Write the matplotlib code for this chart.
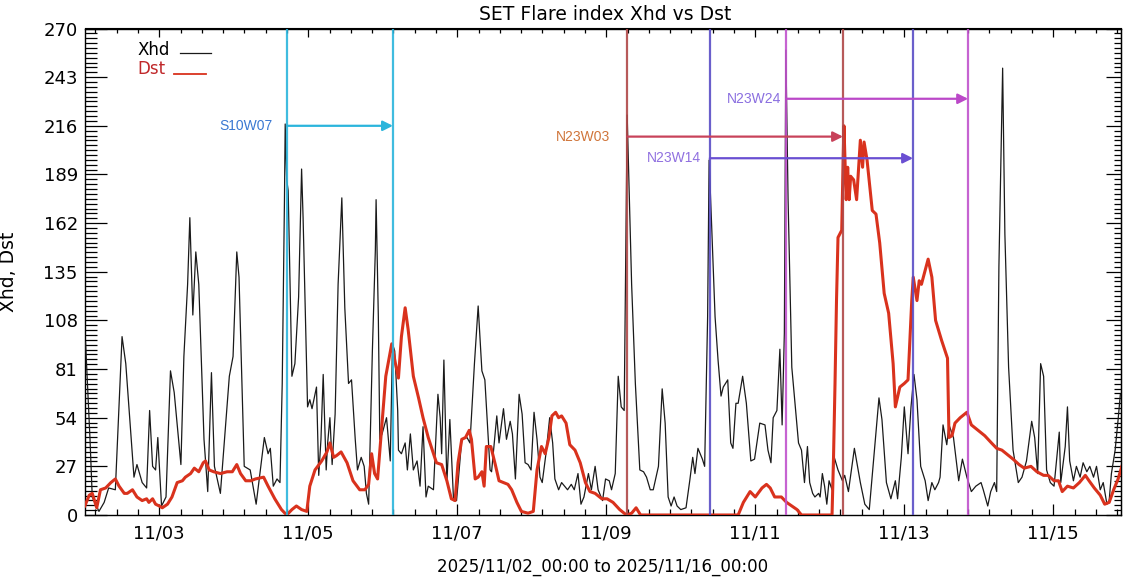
import numpy as np
import matplotlib
matplotlib.use('Agg')
import matplotlib.pyplot as plt
from matplotlib.ticker import FixedLocator, MultipleLocator, NullFormatter
from matplotlib.lines import Line2D

# время в сутках от 2025/11/02 00:00
xhd_day = [0.01, 0.07, 0.10, 0.19, 0.26, 0.32, 0.41, 0.50, 0.55, 0.66, 0.70, 0.77, 0.83, 0.87, 0.91,
           0.95, 0.98, 1.03, 1.09, 1.15, 1.20, 1.29, 1.33, 1.38, 1.41, 1.45, 1.49, 1.53, 1.60, 1.65,
           1.70, 1.74, 1.82, 1.94, 1.99, 2.04, 2.07, 2.14, 2.22, 2.30, 2.41, 2.46, 2.49, 2.53, 2.58,
           2.62, 2.65, 2.68, 2.69, 2.71, 2.73, 2.78, 2.82, 2.87, 2.91, 2.93, 2.99, 3.02, 3.05, 3.11,
           3.14, 3.17, 3.20, 3.24, 3.26, 3.29, 3.32, 3.36, 3.40, 3.45, 3.49, 3.54, 3.58, 3.63, 3.66,
           3.71, 3.75, 3.78, 3.81, 3.86, 3.90, 3.91, 3.94, 3.96, 3.99, 4.05, 4.10, 4.13, 4.16, 4.20,
           4.21, 4.25, 4.30, 4.33, 4.37, 4.41, 4.46, 4.50, 4.54, 4.58, 4.61, 4.68, 4.74, 4.77, 4.79,
           4.82, 4.86, 4.90, 4.95, 4.99, 5.06, 5.13, 5.17, 5.23, 5.28, 5.33, 5.37, 5.41, 5.44, 5.46,
           5.53, 5.56, 5.62, 5.66, 5.71, 5.74, 5.78, 5.83, 5.87, 5.91, 5.95, 5.99, 6.03, 6.07, 6.11,
           6.14, 6.19, 6.24, 6.28, 6.31, 6.36, 6.40, 6.44, 6.48, 6.53, 6.57, 6.62, 6.66, 6.70, 6.76,
           6.80, 6.85, 6.89, 6.95, 6.99, 7.04, 7.07, 7.12, 7.16, 7.20, 7.24, 7.28, 7.34, 7.39, 7.45,
           7.50, 7.54, 7.59, 7.63, 7.70, 7.75, 7.79, 7.83, 7.87, 7.91, 7.95, 8.00, 8.07, 8.12, 8.16,
           8.19, 8.23, 8.29, 8.32, 8.36, 8.38, 8.41, 8.46, 8.50, 8.54, 8.57, 8.63, 8.67, 8.70, 8.74,
           8.77, 8.83, 8.88, 8.94, 8.99, 9.06, 9.13, 9.17, 9.21, 9.24, 9.29, 9.33, 9.36, 9.39, 9.41,
           9.44, 9.49, 9.58, 9.62, 9.66, 9.70, 9.73, 9.77, 9.80, 9.85, 9.87, 9.90, 9.93, 9.96, 9.99,
           10.03, 10.06, 10.11, 10.17, 10.20, 10.25, 10.33, 10.41, 10.47, 10.53, 10.58, 10.66, 10.70,
           10.76, 10.82, 10.88, 10.91, 10.96, 11.00, 11.05, 11.09, 11.13, 11.17, 11.22, 11.28, 11.32,
           11.37, 11.41, 11.46, 11.48, 11.52, 11.57, 11.60, 11.66, 11.73, 11.78, 11.84, 11.90, 11.96,
           12.03, 12.06, 12.12, 12.16, 12.21, 12.24, 12.27, 12.32, 12.35, 12.40, 12.46, 12.53, 12.58,
           12.64, 12.71, 12.75, 12.79, 12.83, 12.87, 12.91, 12.96, 13.01, 13.08, 13.10, 13.16, 13.19,
           13.22, 13.27, 13.31, 13.36, 13.40, 13.45, 13.49, 13.54, 13.58, 13.63, 13.67, 13.72, 13.75,
           13.78, 13.83, 13.87, 13.90]
xhd_val = [96, 42, 10, 2, 7, 15, 14, 99, 84, 21, 28, 18, 15, 58, 27,
           25, 43, 5, 10, 80, 68, 28, 88, 128, 165, 111, 146, 128, 42, 13,
           79, 27, 12, 77, 88, 146, 132, 27, 25, 6, 43, 34, 37, 16, 20,
           18, 73, 175, 217, 186, 180, 77, 84, 121, 192, 165, 60, 64, 59, 71,
           22, 42, 78, 25, 40, 54, 28, 56, 128, 176, 115, 73, 75, 42, 25,
           32, 27, 12, 6, 91, 147, 175, 110, 42, 45, 54, 30, 95, 91, 58,
           36, 34, 40, 25, 45, 25, 30, 16, 49, 10, 16, 14, 67, 54, 34,
           86, 18, 53, 8, 8, 42, 43, 40, 84, 116, 80, 75, 47, 25, 24,
           55, 40, 59, 42, 52, 45, 20, 67, 56, 29, 28, 25, 57, 42, 21,
           18, 34, 54, 40, 20, 14, 18, 16, 14, 17, 14, 23, 6, 10, 23,
           14, 27, 14, 8, 20, 19, 14, 23, 77, 60, 58, 222, 128, 73, 25,
           24, 21, 14, 14, 27, 70, 51, 10, 5, 10, 5, 3, 4, 19, 32,
           23, 37, 31, 27, 110, 197, 165, 110, 86, 66, 71, 75, 40, 37, 62,
           62, 77, 62, 30, 31, 51, 50, 36, 29, 54, 58, 92, 50, 101, 258,
           175, 82, 40, 36, 18, 38, 18, 12, 10, 12, 10, 23, 16, 6, 19,
           14, 32, 25, 19, 22, 13, 37, 18, 6, 3, 27, 65, 53,
           18, 9, 19, 9, 32, 60, 34, 60, 78, 64, 27, 19, 8,
           18, 14, 18, 21, 50, 39, 50, 43, 19, 31, 21, 13, 16,
           18, 14, 5, 13, 18, 13, 138, 248, 156, 82, 36, 18, 21,
           30, 52, 43, 23, 84, 77, 25, 18, 16, 46, 18, 38, 60,
           30, 19, 27, 21, 29, 24, 27, 21, 27, 14, 18, 6, 8,
           23, 36, 53, 67]

dst_day = [0.00, 0.06, 0.10, 0.16, 0.21, 0.28, 0.35, 0.41, 0.46, 0.53, 0.57, 0.64, 0.70, 0.77, 0.83,
           0.86, 0.91, 0.95, 1.00, 1.04, 1.11, 1.17, 1.24, 1.31, 1.35, 1.42, 1.47, 1.53, 1.59, 1.62,
           1.67, 1.73, 1.82, 1.91, 1.98, 2.04, 2.09, 2.16, 2.23, 2.29, 2.40, 2.46, 2.55, 2.64, 2.71,
           2.78, 2.84, 2.91, 2.98, 3.02, 3.09, 3.18, 3.25, 3.29, 3.34, 3.38, 3.44, 3.52, 3.60, 3.69,
           3.76, 3.81, 3.85, 3.89, 3.93, 3.99, 4.04, 4.12, 4.17, 4.21, 4.25, 4.30, 4.34, 4.41, 4.48,
           4.54, 4.61, 4.72, 4.79, 4.86, 4.92, 4.97, 5.01, 5.06, 5.11, 5.16, 5.19, 5.24, 5.28, 5.33,
           5.36, 5.39, 5.45, 5.51, 5.56, 5.62, 5.68, 5.73, 5.80, 5.86, 5.95, 6.02, 6.07, 6.13, 6.18,
           6.23, 6.27, 6.32, 6.36, 6.40, 6.46, 6.51, 6.58, 6.65, 6.72, 6.78, 6.85, 6.94, 7.01, 7.09,
           7.18, 7.27, 7.34, 7.40, 7.46, 8.77, 8.84, 8.93, 9.00, 9.09, 9.15, 9.20, 9.26, 9.35, 9.42,
           9.49, 9.56, 9.62, 10.03, 10.05, 10.07, 10.09, 10.11, 10.16, 10.18, 10.19, 10.22, 10.24,
           10.26, 10.28, 10.32, 10.36, 10.41, 10.44, 10.46, 10.50, 10.57, 10.62, 10.67, 10.73, 10.79,
           10.85, 10.88, 10.94, 11.00, 11.05, 11.10, 11.12, 11.17, 11.20, 11.23, 11.32, 11.37, 11.42,
           11.50, 11.58, 11.60, 11.64, 11.68, 11.75, 11.84, 11.90, 11.99, 12.08, 12.17, 12.24, 12.31,
           12.37, 12.46, 12.54, 12.61, 12.70, 12.78, 12.87, 12.93, 13.01, 13.07, 13.12, 13.19, 13.27,
           13.35, 13.43, 13.48, 13.55, 13.63, 13.69, 13.75, 13.81, 13.87, 13.92]
dst_val = [5, 11, 12, 4, 14, 15, 18, 20, 16, 12, 12, 14, 10, 8, 9,
           7, 9, 6, 5, 4, 6, 10, 18, 19, 21, 23, 26, 24, 29, 30,
           25, 24, 23, 24, 24, 28, 23, 19, 19, 20, 21, 16, 9, 3, 0,
           3, 5, 3, 2, 16, 25, 30, 35, 40, 32, 33, 35, 29, 19, 14,
           14, 17, 34, 23, 20, 51, 77, 95, 84, 76, 99, 115, 103, 77, 65,
           54, 43, 29, 28, 19, 9, 8, 29, 42, 43, 47, 42, 20, 21, 24,
           16, 38, 38, 28, 19, 18, 17, 14, 7, 2, 1, 2, 25, 38, 34,
           43, 55, 57, 54, 55, 51, 39, 36, 29, 18, 13, 12, 9, 9, 7,
           3, 0, 1, 4, 0, 0, 7, 13, 10, 15, 17, 15, 10, 10, 7,
           5, 3, 0, 0, 32, 73, 119, 154, 158, 199, 216, 175, 193,
           175, 188, 186, 175, 208, 193, 207, 197, 169, 167, 151, 123, 112,
           84, 60, 71, 73, 75, 119, 132, 119, 130, 128, 142, 132, 108,
           97, 87, 43, 44, 51, 54, 57, 50, 47, 44, 40, 37, 36,
           34, 31, 28, 26, 27, 24, 22, 22, 19, 19, 13, 16, 15,
           18, 22, 19, 15, 11, 6, 7, 14, 20, 27]

# области и время прихода
ev_names = ['S10W07', 'N23W03', 'N23W14', 'N23W24']
ev_start = [2.714, 7.282, 8.389, 9.413]
ev_end = [4.136, 10.177, 11.117, 11.856]
ev_level = [216, 210, 198, 231]
ev_line_col = ['#2bb5dc', '#b04848', '#5a4ec6', '#c052cc']
ev_arrow_col = ['#2bb5dc', '#c8425a', '#6a4fd2', '#bb48c8']
ev_text_col = ['#3a78d2', '#d0753a', '#9070e0', '#8a6ee0']
ev_text_dx = [-14, -17, -9, -5]

tick_days = [1, 3, 5, 7, 9, 11, 13]
tick_names = ['11/03', '11/05', '11/07', '11/09', '11/11', '11/13', '11/15']

W, H = 1123, 579
fig = plt.figure(figsize=(W / 100, H / 100), dpi=100)
x0, x1, y0, y1 = 84.8, 1121.0, 28.5, 515.0
ax = fig.add_axes([x0 / W, 1 - y1 / H, (x1 - x0) / W, (y1 - y0) / H])

ax.plot(xhd_day, xhd_val, color='#1a1a1a', lw=0.9, zorder=3)
ax.plot(dst_day, dst_val, color='#d9321d', lw=2.2, zorder=4)

for i in range(len(ev_names)):
    for xx in (ev_start[i], ev_end[i]):
        ax.axvline(xx, color=ev_line_col[i], lw=1.6, alpha=0.9, zorder=5)
    ax.annotate('', xy=(ev_end[i], ev_level[i]), xytext=(ev_start[i], ev_level[i]),
                arrowprops=dict(arrowstyle='-|>', color=ev_arrow_col[i], lw=1.6,
                                mutation_scale=15, shrinkA=0, shrinkB=0), zorder=6)
    ax.annotate(ev_names[i], xy=(ev_start[i], ev_level[i]), xytext=(ev_text_dx[i] * 0.72, 0),
                textcoords='offset points', ha='right', va='center', color=ev_text_col[i],
                fontsize=10, family='Liberation Sans', zorder=6)

ax.set_xlim(0, (x1 - x0) / 74.5)
ax.set_ylim(0, 270)

# оси
ax.xaxis.set_major_locator(FixedLocator(tick_days))
ax.set_xticklabels(tick_names)
ax.xaxis.set_minor_locator(FixedLocator(1 + np.arange(-3, 50) * 2 / 7))
ax.yaxis.set_major_locator(MultipleLocator(27))
ax.yaxis.set_minor_locator(MultipleLocator(2.7))
ax.tick_params(axis='y', which='major', direction='in', length=16, width=0.9, labelsize=13, pad=5)
ax.tick_params(axis='y', which='minor', direction='in', length=8.5, width=0.9)
ax.tick_params(axis='x', which='major', direction='in', length=8, width=0.9, labelsize=13, pad=7)
ax.tick_params(axis='x', which='minor', direction='in', length=4.5, width=0.9)
for s in ax.spines.values():
    s.set_linewidth(1.0)

sx = ax.secondary_xaxis('top')
sx.xaxis.set_major_locator(FixedLocator(tick_days))
sx.xaxis.set_minor_locator(FixedLocator(1 + np.arange(-3, 50) * 2 / 7))
sx.xaxis.set_major_formatter(NullFormatter())
sx.tick_params(which='major', direction='in', length=6.5, width=0.9)
sx.tick_params(which='minor', direction='in', length=3.5, width=0.9)

sy = ax.secondary_yaxis('right')
sy.yaxis.set_major_locator(MultipleLocator(27))
sy.yaxis.set_minor_locator(MultipleLocator(2.7))
sy.yaxis.set_major_formatter(NullFormatter())
sy.tick_params(which='major', direction='in', length=11, width=0.9)
sy.tick_params(which='minor', direction='in', length=5, width=0.9)

# легенда
ax.text(0.0504, 0.956, 'Xhd', transform=ax.transAxes, fontsize=12, va='center', ha='left', color='black')
ax.add_line(Line2D([0.0919, 0.1218], [0.9496, 0.9496], transform=ax.transAxes, color='#1a1a1a', lw=0.9))
ax.text(0.0504, 0.9167, 'Dst', transform=ax.transAxes, fontsize=12, va='center', ha='left', color='#c0282a')
ax.add_line(Line2D([0.0862, 0.1171], [0.9065, 0.9065], transform=ax.transAxes, color='#d9321d', lw=1.3))

ax.set_ylabel('Xhd, Dst', fontsize=13.5)
ax.yaxis.set_label_coords(-0.0645, 0.5)
ax.set_xlabel('2025/11/02_00:00 to 2025/11/16_00:00', fontsize=12)
ax.xaxis.set_label_coords(0.5, -0.088)
fig.text((605 + 0) / W, 1 - 15 / H, 'SET Flare index Xhd vs Dst', fontsize=13.5, ha='center', va='center')

fig.savefig('out.png', dpi=100)
